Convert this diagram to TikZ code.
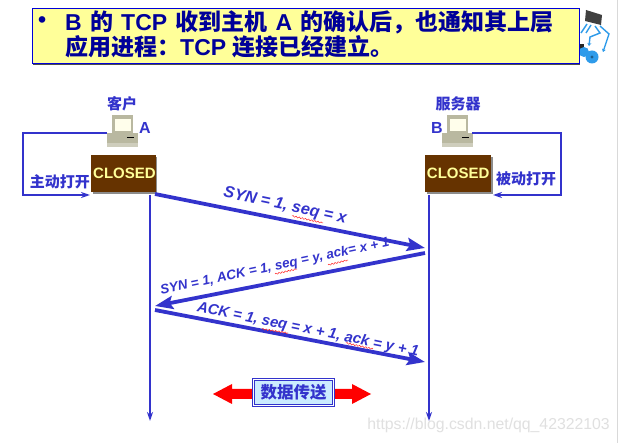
\documentclass[tikz,border=0pt]{standalone}
\usepackage{fontspec}
\setmainfont{Liberation Sans}
\newfontfamily\cjk{Noto Sans CJK SC}
\usetikzlibrary{arrows.meta,decorations.pathmorphing}
\definecolor{lblue}{HTML}{3333CC}
\definecolor{tblue}{HTML}{000099}
\definecolor{ybox}{HTML}{FFFF99}
\definecolor{brownb}{HTML}{663300}
\definecolor{cyanb}{HTML}{CCECFF}
\definecolor{tan}{HTML}{B9B8A0}
\definecolor{iconblue}{HTML}{2E9BEA}
\newcommand{\ttl}[1]{{\cjk\bfseries #1}}
\newcommand{\px}[1]{\fontsize{#1pt}{#1pt}\selectfont}
\tikzset{
  x=1pt,y=-1pt,
  connector/.style={draw=lblue,line width=1.8pt},
  msg/.style={draw=lblue,line width=3.8pt,-{Stealth[length=18pt,width=13pt,inset=3pt]}},
  life/.style={draw=lblue,line width=1.6pt,-{Stealth[length=9pt,width=6pt]}},
  state/.style={fill=brownb,minimum width=64pt,minimum height=37pt,inner sep=0pt,text=ybox,font=\px{15}\bfseries},
  lbl/.style={text=lblue,font=\cjk\px{15}\bfseries,inner sep=0pt},
  letter/.style={text=lblue,font=\px{16}\bfseries,inner sep=0pt},
  msgtext/.style={text=lblue,inner sep=0pt},
  squig/.style={draw=red!85!white,line width=0.5pt,decorate,decoration={snake,amplitude=0.7pt,segment length=3.2pt}},
  computer/.pic={
    \fill[tan] (5,0) rectangle (26,19);
    \fill[white!92!yellow] (7.5,4) rectangle (23.5,16);
    \fill[tan] (0,18) rectangle (31,28);
    \fill[tan!70!white] (0,28) rectangle (31,32);
    \draw[black,line width=0.9pt] (20,22) -- (27,22);
  }
}
\begin{document}
\begin{tikzpicture}
\useasboundingbox (0,0) rectangle (619,443);
\fill[white] (0,0) rectangle (619,443);
\draw[black!15,line width=0.8pt] (617,0) -- (617,443);

% chip icon
\fill[black!75] (586,10) -- (602,15) -- (601,25) -- (585,21) -- cycle;
\fill[black!85] (578,44) rectangle (584,54);
\draw[iconblue,line width=1.4pt] (587,24) -- (581,33);
\draw[iconblue,line width=1.4pt] (591,25) -- (586,33);
\draw[iconblue,line width=1.4pt,-{Stealth[length=3pt,width=4pt]}] (595,26) -- (600,33) -- (590,37) -- (589,46);
\draw[iconblue,line width=1.4pt,-{Stealth[length=3pt,width=4pt]}] (600,26) -- (609,34) -- (603,52);
\fill[iconblue] (592,57) circle[radius=6.5];
\fill[iconblue!60!black] (592,57) circle[radius=1.6];
\fill[iconblue] (584,52) circle[radius=5];

% title box
\fill[black!70] (33,10) rectangle (580,65);
\node[draw=blue!85!black,line width=1pt,fill=ybox,anchor=north west,minimum width=547pt,minimum height=55pt,inner sep=0pt] (title) at (31.5,8) {};
\node[anchor=west,text=tblue,inner sep=0pt,font=\px{23}\bfseries] (bullet) at (38,22) {•};
\node[anchor=west,text=tblue,inner sep=0pt,font=\px{23}\bfseries] (l1) at (65,22) {\spaceskip=8.2pt B \ttl{的} TCP \ttl{收到主机} A \ttl{的确认后，也通知其上层}};
\node[anchor=west,text=tblue,inner sep=0pt,font=\px{23}\bfseries] (l2) at (65,47) {\ttl{应用进程：}TCP \ttl{连接已经建立。}};

% hosts
\pic at (107,115) {computer};
\pic at (442,115) {computer};
\coordinate (pcA) at (107,133);
\coordinate (pcB) at (472,133);
\node[lbl] (client) at (122,104) {客户};
\node[lbl] (server) at (458,104) {服务器};
\node[letter] (A) at (145,128) {A};
\node[letter] (B) at (437,128) {B};

% state boxes
\fill[black!45] (93,157) rectangle (157,194);
\fill[black!45] (427,157) rectangle (493,194);
\node[state,anchor=north west] (sA) at (91,155) {\hspace{2pt}CLOSED};
\node[state,anchor=north west,minimum width=66pt] (sB) at (425,155) {CLOSED};

% open loops
\coordinate (la) at (23,133);
\coordinate (lb) at (23,195);
\coordinate (lc) at (90,195);
\draw[connector,-{Stealth[length=9pt,width=6pt]}] (pcA) -- (la) -- (lb) -- (lc);
\coordinate (ra) at (561,133);
\coordinate (rb) at (561,195);
\coordinate (rc) at (493,195);
\draw[connector,-{Stealth[length=9pt,width=6pt]}] (pcB) -- (ra) -- (rb) -- (rc);
\node[lbl] (open1) at (60,182) {主动打开};
\node[lbl] (open2) at (526,179) {被动打开};

% life lines
\coordinate (ta) at (150,195);
\coordinate (tb) at (150,421);
\coordinate (ua) at (429,195);
\coordinate (ub) at (429,421);
\draw[life] (ta) -- (tb);
\draw[life] (ua) -- (ub);

% messages
\coordinate (m1a) at (155,194);
\coordinate (m1b) at (425,248);
\coordinate (m2a) at (425,253);
\coordinate (m2b) at (155,306);
\coordinate (m3a) at (155,310);
\coordinate (m3b) at (425,362);
\draw[msg] (m1a) -- (m1b);
\draw[msg] (m2a) -- (m2b);
\draw[msg] (m3a) -- (m3b);
\node[msgtext,rotate=-12,font=\px{16.2}\bfseries\itshape] (t1) at (285,206) {SYN = 1, seq = x};
\node[msgtext,rotate=12,font=\px{13.4}\bfseries\itshape] (t2) at (275,267) {SYN = 1, ACK = 1, seq = y, ack= x + 1};
\node[msgtext,rotate=-11.5,font=\px{14.9}\bfseries\itshape] (t3) at (308,330) {ACK = 1, seq = x + 1, ack = y + 1};

% spell-check marks
\draw[squig] (292,216) -- (323,223);
\draw[squig] (275,274) -- (297,269);
\draw[squig] (328,265) -- (348,260);
\draw[squig] (262,329) -- (288,333);
\draw[squig] (346,343) -- (373,349);

% data transfer
\fill[red] (213,394) -- (232,384) -- (232,389) -- (352,389) -- (352,384) -- (371,394) -- (352,404) -- (352,399) -- (232,399) -- (232,404) -- cycle;
\node[draw=lblue,line width=0.7pt,double=white,double distance=1pt,fill=cyanb,minimum width=80pt,minimum height=26pt,inner sep=0pt,text=lblue,font=\cjk\px{16.5}\bfseries] (data) at (293.5,392.5) {数据传送};

% watermark
\node[text=black!12,anchor=east,inner sep=0pt,font=\px{15.8}] (wm) at (610,425) {https://blog.csdn.net/qq\_42322103};
\end{tikzpicture}
\end{document}
